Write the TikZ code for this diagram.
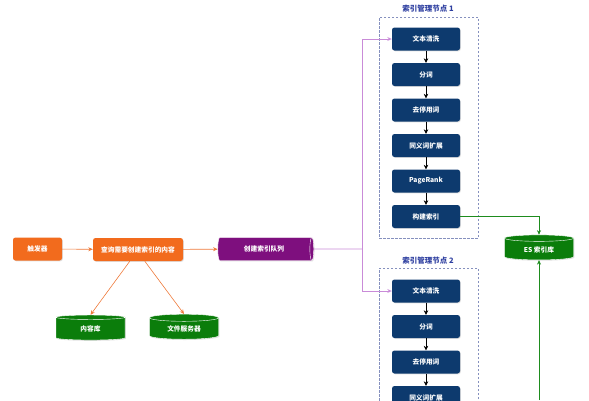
\documentclass[tikz,border=0pt]{standalone}
\usepackage{fontspec}
\setmainfont{Noto Sans CJK SC}
\usetikzlibrary{shapes.geometric,shadows,arrows.meta}
\definecolor{org}{HTML}{F26B1D}
\definecolor{orgline}{HTML}{EE7A3A}
\definecolor{pur}{HTML}{7E0F7E}
\definecolor{purline}{HTML}{C98BD8}
\definecolor{grn}{HTML}{0B7D0B}
\definecolor{grnline}{HTML}{1E8C1E}
\definecolor{navy}{HTML}{0D3A6E}
\definecolor{clus}{HTML}{8590BE}
\definecolor{ttl}{HTML}{2E3FA0}
\tikzset{
  shd/.style={drop shadow={opacity=0.25,shadow xshift=0.8pt,shadow yshift=-0.8pt}},
  obox/.style={rectangle,rounded corners=2.5pt,fill=org,text=white,font=\bfseries\fontsize{6.7}{7}\selectfont,minimum height=23pt,inner sep=2pt,shd},
  nbox/.style={rectangle,rounded corners=2.5pt,fill=navy,text=white,font=\bfseries\fontsize{6.7}{7}\selectfont,minimum width=68pt,minimum height=23pt,inner sep=2pt,shd},
  db/.style={cylinder,shape border rotate=90,aspect=0.2,fill=grn,draw=white,line width=0.4pt,text=white,font=\bfseries\fontsize{6.7}{7}\selectfont,minimum width=69pt,minimum height=25pt,inner sep=1pt,shd},
  queue/.style={cylinder,aspect=0.3,fill=pur,draw=white,line width=0.4pt,text=white,font=\bfseries\fontsize{6.7}{7}\selectfont,minimum width=23pt,minimum height=96pt,shd},
  clusterbox/.style={draw=clus,dashed,dash pattern=on 2.5pt off 1.5pt,line width=0.5pt},
  ctitle/.style={text=ttl,font=\bfseries\fontsize{7.5}{8}\selectfont},
  oarr/.style={draw=orgline,line width=0.6pt,-{Stealth[length=4.5pt,width=4pt]}},
  parr/.style={draw=purline,line width=0.6pt,-{Stealth[length=4.5pt,width=4pt,open]}},
  karr/.style={draw=black,line width=0.6pt,-{Stealth[length=4.5pt,width=4.5pt]}},
  garr/.style={draw=grnline,line width=0.6pt,-{Stealth[length=4.5pt,width=4pt]}},
}
\begin{document}
\begin{tikzpicture}[x=1pt,y=-1pt]
\useasboundingbox (0,0) rectangle (589,400);
% left part
\node[obox,minimum width=49pt] (trig) at (37.5,249) {触发器};
\node[obox,minimum width=90pt] (query) at (138,249.5) {查询需要创建索引的内容};
\node[queue] (q) at (264,249) {创建索引队列};
\node[db] (content) at (90.5,329) {内容库};
\node[db] (files) at (184,329) {文件服务器};
\draw[oarr] (trig) -- (query);
\draw[oarr] (query) -- (q);
\draw[oarr] (query.south west) ++(37,0) coordinate (qa) -- (content.north);
\draw[oarr] (query.south west) ++(52,0) coordinate (qb) -- (files.north);
% cluster 1
\node[clusterbox,minimum width=99pt,minimum height=221pt] (c1) at (428.5,127.5) {};
\node[ctitle] (t1) at (428,9) {索引管理节点 1};
\node[nbox] (a1) at (426,39) {文本清洗};
\node[nbox] (a2) at (426,74.5) {分词};
\node[nbox] (a3) at (426,110) {去停用词};
\node[nbox] (a4) at (426,145.5) {同义词扩展};
\node[nbox] (a5) at (426,181) {PageRank};
\node[nbox] (a6) at (426,216.5) {构建索引};
\draw[karr] (a1) -- (a2);
\draw[karr] (a2) -- (a3);
\draw[karr] (a3) -- (a4);
\draw[karr] (a4) -- (a5);
\draw[karr] (a5) -- (a6);
% cluster 2
\node[clusterbox,minimum width=99pt,minimum height=160pt] (c2) at (428.5,348) {};
\node[ctitle] (t2) at (428,261) {索引管理节点 2};
\node[nbox] (b1) at (426,291) {文本清洗};
\node[nbox] (b2) at (426,326.5) {分词};
\node[nbox] (b3) at (426,362) {去停用词};
\node[nbox] (b4) at (426,397.5) {同义词扩展};
\draw[karr] (b1) -- (b2);
\draw[karr] (b2) -- (b3);
\draw[karr] (b3) -- (b4);
% ES
\node[db] (es) at (539,249.5) {ES 索引库};
\coordinate (split) at (362,249);
\coordinate (bot) at (539,400);
\draw[purline,line width=0.6pt] (q.east) -- (split);
\draw[parr] (split) |- (a1.west);
\draw[parr] (split) |- (b1.west);
\draw[garr] (a6.east) -| (es.north);
\draw[garr] (bot) -- (es.south);
\end{tikzpicture}
\end{document}
